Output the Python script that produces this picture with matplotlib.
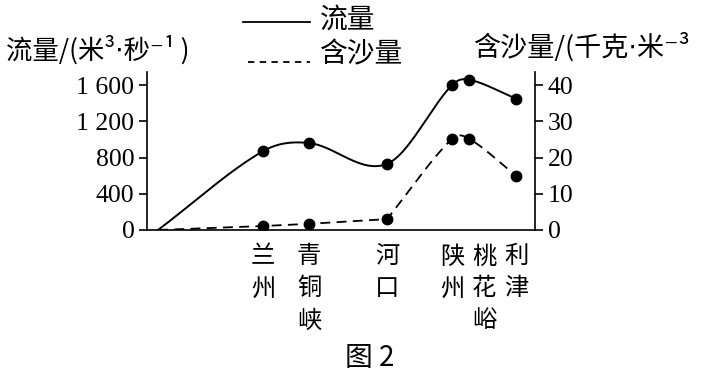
import numpy as np
import matplotlib
matplotlib.use("Agg")
import matplotlib.pyplot as plt
from matplotlib.lines import Line2D

plt.rcParams['font.family'] = ['Noto Sans CJK SC', 'DejaVu Sans']

# stations along the river (position in arbitrary distance units)
stations = ["兰州", "青铜峡", "河口", "陕州", "桃花峪", "利津"]
pos = [11, 116, 162, 240, 305, 322, 369]          # first entry = source
flow = [0, 870, 960, 730, 1600, 1660, 1450]       # 米3/秒
sediment = [0, 1.1, 1.7, 3.0, 25.2, 25.2, 15.0]   # 千克/米3

flow_ticks = [0, 400, 800, 1200, 1600]
flow_labels = ["0", "400", "800", "1 200", "1 600"]
sed_ticks = [0, 10, 20, 30, 40]

W, H = 716, 378
NUM_FONT = ["Liberation Serif", "DejaVu Serif"]


def smooth(x, y, n=50):
    x = np.asarray(x, float)
    y = np.asarray(y, float)
    m = np.empty_like(y)
    m[1:-1] = (y[2:] - y[:-2]) / (x[2:] - x[:-2])
    m[0] = (y[1] - y[0]) / (x[1] - x[0])
    m[-1] = (y[-1] - y[-2]) / (x[-1] - x[-2])
    xs, ys = [], []
    t = np.linspace(0, 1, n)
    for i in range(len(x) - 1):
        h = x[i + 1] - x[i]
        h00 = 2 * t**3 - 3 * t**2 + 1
        h10 = t**3 - 2 * t**2 + t
        h01 = -2 * t**3 + 3 * t**2
        h11 = t**3 - t**2
        ys.append(h00 * y[i] + h10 * h * m[i] + h01 * y[i + 1] + h11 * h * m[i + 1])
        xs.append(x[i] + t * h)
    return np.concatenate(xs), np.concatenate(ys)


def fx(px):
    return px / W


def fy(py):
    return 1 - py / H


fig = plt.figure(figsize=(W / 100, H / 100), dpi=100)
ax = fig.add_axes([fx(147), fy(230), (535 - 147) / W, (230 - 72) / H])
ax2 = ax.twinx()

ax.set_xlim(0, 388)
ax.set_ylim(0, 1744)
ax2.set_ylim(0, 43.6)

# flow (solid)
sx, sy = smooth(pos, flow)
ax.plot(sx, sy, color="black", lw=1.4)
ax.plot(pos[1:], flow[1:], "o", color="black", ms=7.5)

# sediment (dashed): straight up to 河口, smooth after it
k = 3
lx, ly = smooth(pos[k:], sediment[k:])
dx = np.concatenate([pos[:k], lx])
dy = np.concatenate([sediment[:k], ly])
ax2.plot(dx, dy, color="black", lw=1.3, linestyle=(0, (5.5, 3.5)))
ax2.plot(pos[1:], sediment[1:], "o", color="black", ms=7.5)

for a in (ax, ax2):
    a.spines["top"].set_visible(False)
    for s in a.spines.values():
        s.set_linewidth(1.2)
ax.spines["right"].set_visible(False)
ax2.spines["left"].set_visible(False)
ax2.spines["bottom"].set_visible(False)

ax.set_xticks([])
ax.set_yticks(flow_ticks)
ax.set_yticklabels(flow_labels, fontfamily=NUM_FONT, fontsize=18.5)
ax2.set_yticks(sed_ticks)
ax2.set_yticklabels([str(v) for v in sed_ticks], fontfamily=NUM_FONT, fontsize=18.5)
ax.tick_params(axis="y", direction="out", length=6, width=1.2, pad=3)
ax2.tick_params(axis="y", direction="out", length=6, width=1.2, pad=3)

# station names, written vertically
trans = ax.get_xaxis_transform()
for i, name in enumerate(stations):
    dx_pt = 11 if name == "桃花峪" else 0
    ax.annotate("\n".join(name), xy=(pos[i + 1], -0.085), xycoords=trans,
                xytext=(dx_pt, 0), textcoords="offset points",
                ha="center", va="top", fontsize=17.5, linespacing=1.3,
                annotation_clip=False)

# axis titles
fig.text(fx(6), fy(50), "流量/(米³⋅秒⁻¹ )", fontsize=19, ha="left", va="center")
fig.text(fx(473), fy(47), "含沙量/(千克⋅米⁻³", fontsize=19.5, ha="left", va="center")

# legend
fig.add_artist(Line2D([fx(243), fx(310)], [fy(22), fy(22)], color="black", lw=1.3))
fig.add_artist(Line2D([fx(248), fx(310)], [fy(62), fy(62)], color="black", lw=1.3,
                      linestyle=(0, (3.5, 3))))
fig.text(fx(320), fy(20), "流量", fontsize=20, ha="left", va="center")
fig.text(fx(320), fy(54), "含沙量", fontsize=20, ha="left", va="center")

# figure caption
fig.text(fx(370), fy(358), "图 2", fontsize=20, ha="center", va="center")

fig.savefig("out.png", dpi=100)
